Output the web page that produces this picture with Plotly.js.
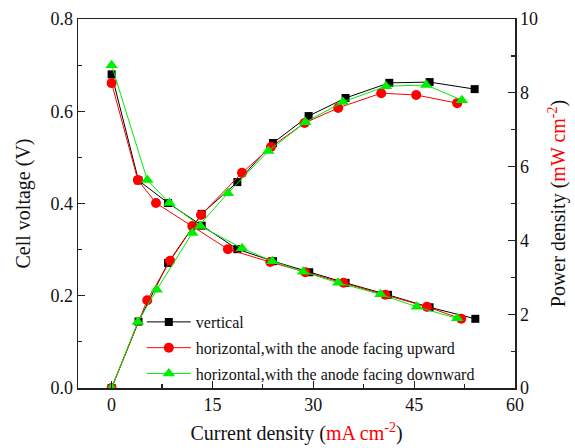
<!DOCTYPE html>
<html>
<head>
<meta charset="utf-8">
<script src="https://cdn.plot.ly/plotly-3.0.1.min.js"></script>
<style>html,body{margin:0;padding:0;background:#fff;}#chart{width:575px;height:448px;}</style>
</head>
<body>
<div id="chart"></div>
<script>
// Voltage curves (left axis)
const vertI_V = [0, 4.0, 8.4, 13.4, 18.7, 24.0, 29.4, 34.8, 41.1, 47.3, 54.1];
const vertV   = [0.68, 0.45, 0.401, 0.352, 0.301, 0.275, 0.251, 0.228, 0.202, 0.175, 0.150];
const upI_V   = [0, 3.9, 6.6, 12.0, 17.3, 23.6, 28.8, 34.5, 40.7, 46.9, 52.0];
const upV     = [0.661, 0.451, 0.401, 0.351, 0.301, 0.273, 0.251, 0.228, 0.202, 0.176, 0.150];
const downI_V = [0, 5.3, 8.6, 13.2, 19.4, 23.9, 28.5, 33.7, 40.0, 45.4, 51.4];
const downV   = [0.70, 0.451, 0.401, 0.351, 0.303, 0.275, 0.252, 0.228, 0.203, 0.176, 0.151];
// Power curves (right axis)
const vertI_P = [0, 4.0, 8.4, 13.4, 18.7, 24.0, 29.3, 34.8, 41.3, 47.3, 54.0];
const vertP   = [0, 1.8, 3.39, 4.72, 5.58, 6.64, 7.37, 7.86, 8.27, 8.29, 8.10];
const upI_P   = [0, 5.3, 8.7, 13.3, 19.4, 23.7, 28.7, 33.7, 40.1, 45.3, 51.4];
const upP     = [0, 2.38, 3.45, 4.69, 5.83, 6.53, 7.18, 7.59, 7.99, 7.94, 7.72];
const downI_P = [0, 3.9, 6.7, 12.0, 17.3, 23.3, 28.8, 34.4, 40.8, 46.8, 52.1];
const downP   = [0, 1.79, 2.66, 4.2, 5.28, 6.42, 7.2, 7.75, 8.18, 8.21, 7.80];

const names = ['vertical', 'horizontal,with the anode facing upward', 'horizontal,with the anode facing downward'];

const BLACK = '#000000', RED = '#ff0000', GREEN = '#00ee00';
const F = 'Liberation Serif';

function tr(x, y, name, color, sym, size, axis, show, grp) {
  return {
    x: x, y: y, name: name, type: 'scatter', mode: 'lines+markers',
    yaxis: axis, showlegend: show, legendgroup: grp,
    line: {color: color, width: 1},
    marker: {color: color, symbol: sym, size: size}
  };
}

const data = [
  tr(vertI_V, vertV, names[0], BLACK, 'square', 8, 'y', true, 'g1'),
  tr(upI_V, upV, names[1], RED, 'circle', 10, 'y', true, 'g2'),
  tr(downI_V, downV, names[2], GREEN, 'triangle-up', 11, 'y', true, 'g3'),
  tr(vertI_P, vertP, names[0], BLACK, 'square', 8, 'y2', false, 'g1'),
  tr(upI_P, upP, names[1], RED, 'circle', 10, 'y2', false, 'g2'),
  tr(downI_P, downP, names[2], GREEN, 'triangle-up', 11, 'y2', false, 'g3')
];

function axisCommon() {
  return {
    showline: true, linecolor: '#222', linewidth: 1.5,
    ticks: 'inside', ticklen: 7, tickwidth: 1.2, tickcolor: '#222',
    showgrid: false, zeroline: false,
    tickfont: {family: F, size: 18, color: '#111'}
  };
}

const layout = {
  width: 575, height: 448,
  margin: {l: 78, r: 60, t: 19, b: 60},
  paper_bgcolor: '#fff', plot_bgcolor: '#fff',
  font: {family: F, size: 16, color: '#111'},
  xaxis: Object.assign(axisCommon(), {
    range: [-5, 60], dtick: 15, tick0: 0, mirror: true,
    minor: {dtick: 7.5, ticks: 'inside', ticklen: 4, tickcolor: '#222'},
    title: {text: 'Current density (<span style="fill:#ff0000">mA cm<sup>-2</sup></span>)', font: {family: F, size: 20, color: '#111'}, standoff: 12}
  }),
  yaxis: Object.assign(axisCommon(), {
    range: [0, 0.8], dtick: 0.2, tick0: 0, tickformat: '.1f',
    minor: {dtick: 0.1, ticks: 'inside', ticklen: 4, tickcolor: '#222'},
    title: {text: 'Cell voltage (V)', font: {family: F, size: 20, color: '#111'}, standoff: 14}
  }),
  yaxis2: Object.assign(axisCommon(), {
    range: [0, 10], dtick: 2, tick0: 0, overlaying: 'y', side: 'right',
    minor: {dtick: 1, ticks: 'inside', ticklen: 4, tickcolor: '#222'},
    title: {text: 'Power density (<span style="fill:#ff0000">mW cm<sup>-2</sup></span>)', font: {family: F, size: 20, color: '#111'}, standoff: 14}
  }),
  legend: {
    x: 0.146, y: 0.225, xanchor: 'left', yanchor: 'top',
    bgcolor: 'rgba(0,0,0,0)', borderwidth: 0,
    font: {family: F, size: 16, color: '#111'},
    itemwidth: 44,
    traceorder: 'grouped', tracegroupgap: 2
  },
  showlegend: true
};

Plotly.newPlot('chart', data, layout, {displayModeBar: false, staticPlot: true});
</script>
</body>
</html>
